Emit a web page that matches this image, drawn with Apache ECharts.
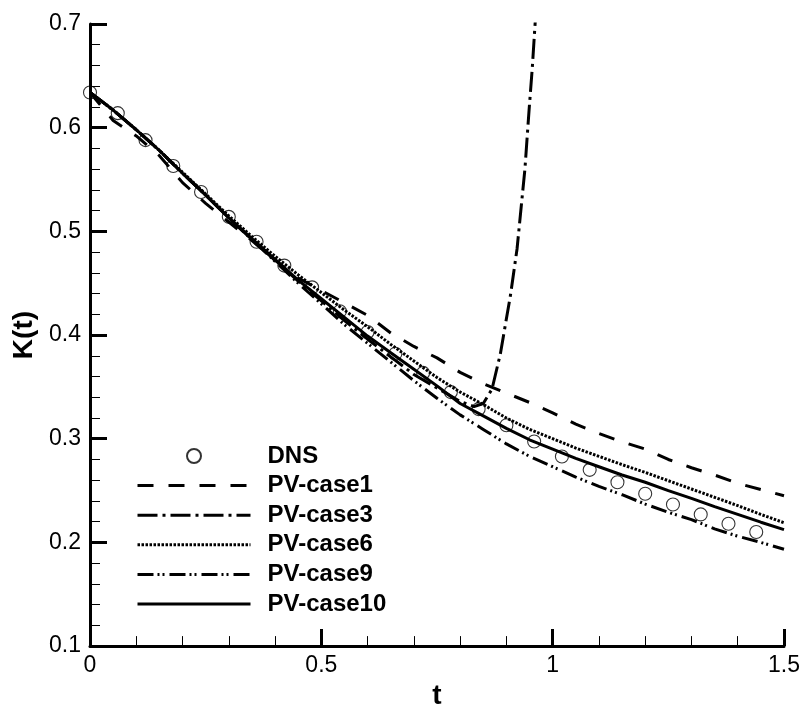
<!DOCTYPE html>
<html>
<head>
<meta charset="utf-8">
<script src="https://cdn.jsdelivr.net/npm/echarts@6/dist/echarts.min.js"></script>
<style>
html,body{margin:0;padding:0;background:#fff;}
#chart{width:804px;height:715px;}
</style>
</head>
<body>
<div id="chart"></div>
<script>
// ---- data ----
const T_DNS = [0,0.06,0.12,0.18,0.24,0.30,0.36,0.42,0.48,0.54,0.60,0.66,0.72,0.78,0.84,0.90,0.96,1.02,1.08,1.14,1.20,1.26,1.32,1.38,1.44];
const K_DNS = [0.634,0.614,0.588,0.563,0.538,0.514,0.490,0.467,0.446,0.423,0.403,0.382,0.3635,0.345,0.3286,0.313,0.2974,0.2828,0.270,0.258,0.247,0.2365,0.227,0.218,0.210];

const T_LINE = [0,0.05,0.10,0.15,0.20,0.25,0.30,0.35,0.40,0.45,0.50,0.55,0.60,0.65,0.70,0.75,0.80,0.85,0.90,0.95,1.00,1.05,1.10,1.15,1.20,1.25,1.30,1.35,1.40,1.45,1.50];
const K_CASE1  = [0.634,0.607,0.592,0.573,0.547,0.527,0.509,0.491,0.472,0.455,0.443,0.431,0.419,0.402,0.389,0.378,0.364,0.353,0.344,0.335,0.325,0.314,0.305,0.297,0.290,0.280,0.272,0.265,0.257,0.251,0.245];
const K_CASE6  = [0.634,0.617,0.598,0.578,0.557,0.536,0.515,0.495,0.476,0.458,0.441,0.424,0.408,0.391,0.375,0.359,0.345,0.333,0.320,0.309,0.300,0.291,0.283,0.275,0.2675,0.2595,0.2515,0.2435,0.2355,0.227,0.219];
const K_CASE9  = [0.634,0.617,0.598,0.578,0.556,0.535,0.513,0.492,0.471,0.450,0.430,0.410,0.392,0.374,0.356,0.339,0.323,0.309,0.295,0.283,0.273,0.263,0.254,0.246,0.237,0.229,0.222,0.213,0.206,0.200,0.1934];
const K_CASE10 = [0.634,0.617,0.598,0.578,0.556,0.535,0.513,0.493,0.473,0.453,0.435,0.417,0.399,0.383,0.367,0.351,0.334,0.322,0.310,0.299,0.290,0.281,0.273,0.265,0.258,0.250,0.2425,0.2345,0.227,0.2195,0.2123];

const T_CASE3 = [0,0.05,0.10,0.15,0.20,0.25,0.30,0.35,0.40,0.45,0.50,0.55,0.60,0.65,0.70,0.75,0.80,0.83,0.85,0.869,0.887,0.909,0.923,0.940,0.949,0.956,0.962,0.968];
const K_CASE3 = [0.634,0.617,0.598,0.578,0.556,0.535,0.513,0.492,0.472,0.452,0.433,0.414,0.396,0.379,0.362,0.349,0.336,0.331,0.334,0.348,0.382,0.439,0.483,0.560,0.617,0.658,0.700,0.740];

const X_TICKS = [0,0.5,1,1.5];
const Y_TICKS = [0.1,0.2,0.3,0.4,0.5,0.6,0.7];
const LEGEND_NAMES = ['DNS','PV-case1','PV-case3','PV-case6','PV-case9','PV-case10'];

function pairs(xs, ys){ return xs.map((x,i)=>[x, ys[i]]); }

const FONT = 'Liberation Sans, Arial, Helvetica, sans-serif';
const chart = echarts.init(document.getElementById('chart'), null, {renderer:'canvas'});

function lineSeries(name, xs, ys, dash, width){
  return {
    name: name, type: 'line', data: pairs(xs, ys),
    symbol: 'none', showSymbol: false, clip: true,
    lineStyle: {color:'#000', width: width, type: dash, cap:'butt'},
    itemStyle: {color:'#000'},
    emphasis: {disabled: true}, animation: false, z: 2
  };
}

const DASHES = [null, [16,15], [20,5,3,5], [2.5,1.5], [16,4,2,3,2,5], 'solid'];
const hiddenSym = {color: 'rgba(0,0,0,0)', borderWidth: 0, opacity: 0};
const legendData = LEGEND_NAMES.map((n, i) => i === 0
  ? {name: n}
  : {name: n, itemStyle: hiddenSym,
     lineStyle: {width: 3, color: '#000', type: DASHES[i], cap: 'butt'}});

const option = {
  backgroundColor: '#fff',
  animation: false,
  grid: {left: 90, right: 20, top: 24, bottom: 55, containLabel: false},
  xAxis: {
    type: 'value', min: X_TICKS[0], max: X_TICKS[X_TICKS.length-1], interval: 0.5,
    name: 't', nameLocation: 'middle', nameGap: 34,
    nameTextStyle: {fontFamily: FONT, fontSize: 28, fontWeight: 'bold', color: '#000'},
    axisLine: {show: true, lineStyle: {color: '#000', width: 3}},
    axisTick: {show: true, inside: true, length: 17, lineStyle: {color: '#000', width: 3}},
    minorTick: {show: true, splitNumber: 5, length: 10, lineStyle: {color: '#000', width: 1}},
    axisLabel: {fontFamily: FONT, fontSize: 23, color: '#000', margin: 8,
      formatter: v => String(v)},
    splitLine: {show: false}
  },
  yAxis: {
    type: 'value', min: Y_TICKS[0], max: Y_TICKS[Y_TICKS.length-1], interval: 0.1,
    name: 'K(t)', nameLocation: 'middle', nameGap: 49, nameRotate: 90,
    nameTextStyle: {fontFamily: FONT, fontSize: 28, fontWeight: 'bold', color: '#000'},
    axisLine: {show: true, lineStyle: {color: '#000', width: 3}},
    axisTick: {show: true, inside: true, length: 17, lineStyle: {color: '#000', width: 3}},
    minorTick: {show: true, splitNumber: 5, length: 10, lineStyle: {color: '#000', width: 1}},
    axisLabel: {fontFamily: FONT, fontSize: 23, color: '#000', margin: 9,
      formatter: v => (Math.round(v*10)/10).toFixed(1)},
    splitLine: {show: false}
  },
  legend: {
    show: true, orient: 'vertical', left: 136, top: 442, padding: 0,
    itemWidth: 113, itemHeight: 14, itemGap: 1.6,
    data: legendData,
    selectedMode: false,
    textStyle: {fontFamily: FONT, fontSize: 24, fontWeight: 'bold', color: '#000',
      lineHeight: 28, padding: [0,0,0,12]}
  },
  series: [
    {
      name: LEGEND_NAMES[0], type: 'scatter', data: pairs(T_DNS, K_DNS),
      symbol: 'circle', symbolSize: 13, symbolKeepAspect: true,
      itemStyle: {color: 'rgba(0,0,0,0)', borderColor: '#000', borderWidth: 1.1},
      emphasis: {disabled: true}, z: 3, animation: false
    },
    lineSeries(LEGEND_NAMES[1], T_LINE, K_CASE1, DASHES[1], 3),
    lineSeries(LEGEND_NAMES[2], T_CASE3, K_CASE3, DASHES[2], 3),
    lineSeries(LEGEND_NAMES[3], T_LINE, K_CASE6, DASHES[3], 3),
    lineSeries(LEGEND_NAMES[4], T_LINE, K_CASE9, DASHES[4], 3),
    lineSeries(LEGEND_NAMES[5], T_LINE, K_CASE10, DASHES[5], 3)
  ]
};
chart.setOption(option);
</script>
</body>
</html>
